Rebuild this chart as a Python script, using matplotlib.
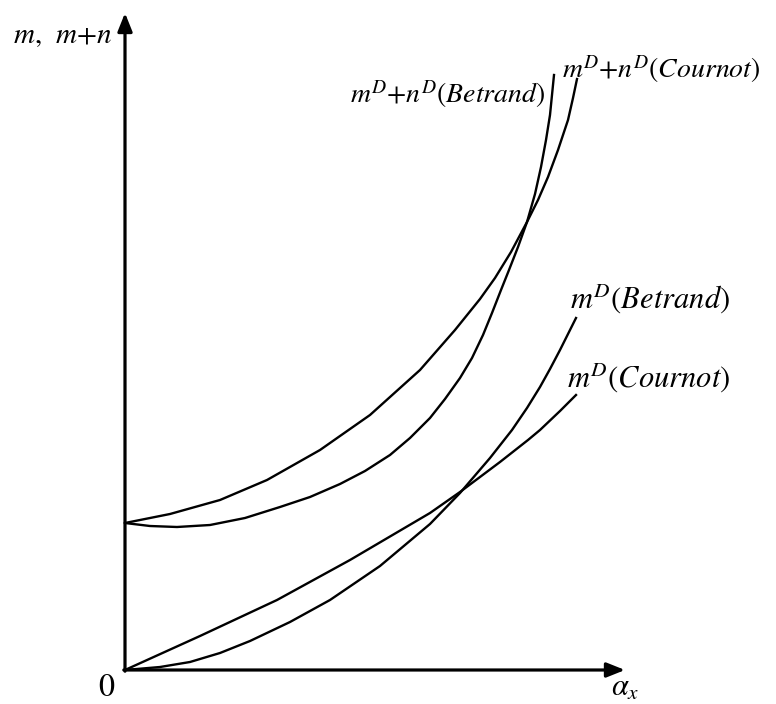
import matplotlib
matplotlib.use('Agg')
import matplotlib.pyplot as plt

plt.rcParams['font.family'] = 'STIXGeneral'
plt.rcParams['mathtext.fontset'] = 'stix'

# curves (arbitrary units, origin at axes corner)
sum_a_x = [0, 0.45, 0.95, 1.42, 1.95, 2.45, 2.95, 3.30, 3.55, 3.70, 3.86, 4.02, 4.13, 4.23, 4.33, 4.43, 4.48, 4.52]
sum_a_y = [1.47, 1.56, 1.70, 1.90, 2.20, 2.55, 3.00, 3.40, 3.71, 3.92, 4.18, 4.48, 4.70, 4.93, 5.20, 5.50, 5.72, 5.91]

sum_b_x = [0, 0.25, 0.52, 0.85, 1.20, 1.55, 1.85, 2.15, 2.40, 2.65, 2.85, 3.05, 3.20, 3.35,
           3.47, 3.58, 3.67, 3.76, 3.84, 3.93, 4.02, 4.10, 4.16, 4.21, 4.25, 4.27, 4.29]
sum_b_y = [1.47, 1.44, 1.43, 1.45, 1.52, 1.63, 1.73, 1.86, 1.99, 2.15, 2.32, 2.52, 2.71, 2.92,
           3.12, 3.35, 3.57, 3.80, 4.00, 4.23, 4.48, 4.76, 5.03, 5.30, 5.55, 5.75, 5.95]

m_cournot_x = [0, 0.75, 1.52, 2.25, 3.05, 3.35, 3.75, 4.03, 4.15, 4.35, 4.51]
m_cournot_y = [0, 0.34, 0.70, 1.10, 1.57, 1.78, 2.08, 2.30, 2.40, 2.59, 2.75]

m_betrand_x = [0, 0.35, 0.65, 0.95, 1.25, 1.65, 2.05, 2.55, 3.05, 3.35, 3.65, 3.87, 4.02, 4.15, 4.25, 4.35, 4.51]
m_betrand_y = [0, 0.03, 0.08, 0.17, 0.29, 0.48, 0.70, 1.04, 1.46, 1.77, 2.12, 2.40, 2.62, 2.83, 3.01, 3.20, 3.52]

fig = plt.figure(figsize=(7.76, 7.04), dpi=100)
ax = fig.add_axes([0, 0, 1, 1])
ax.set_xlim(-1.25, 6.51)
ax.set_ylim(-0.34, 6.70)
ax.axis('off')

for xs, ys in [(sum_a_x, sum_a_y), (sum_b_x, sum_b_y),
               (m_cournot_x, m_cournot_y), (m_betrand_x, m_betrand_y)]:
    ax.plot(xs, ys, color='black', lw=1.7, solid_joinstyle='round')

# axes with arrow heads
arrow = dict(arrowstyle='-|>,head_length=0.55,head_width=0.22', color='black',
             lw=2.3, shrinkA=0, shrinkB=0, mutation_scale=20)
ax.annotate('', xy=(0, 6.57), xytext=(0, -0.012), arrowprops=arrow)
ax.annotate('', xy=(5.0, 0), xytext=(-0.012, 0), arrowprops=arrow)

ax.text(-1.12, 6.27, r'$m$,  $m$+$n$', fontsize=21, ha='left', va='baseline')
ax.text(4.20, 5.67, r'$m^D$+$n^D$($Betrand$)', fontsize=20, ha='right', va='baseline')
ax.text(4.37, 5.92, r'$m^D$+$n^D$($Cournot$)', fontsize=20, ha='left', va='baseline')
ax.text(4.45, 3.61, r'$m^D$($Betrand$)', fontsize=22, ha='left', va='baseline')
ax.text(4.42, 2.82, r'$m^D$($Cournot$)', fontsize=22, ha='left', va='baseline')
ax.text(-0.19, -0.18, '0', fontsize=23, ha='center', va='center')
ax.text(5.0, -0.185, r'$\alpha_x$', fontsize=22, ha='center', va='center')

fig.savefig('out.png', dpi=100)
